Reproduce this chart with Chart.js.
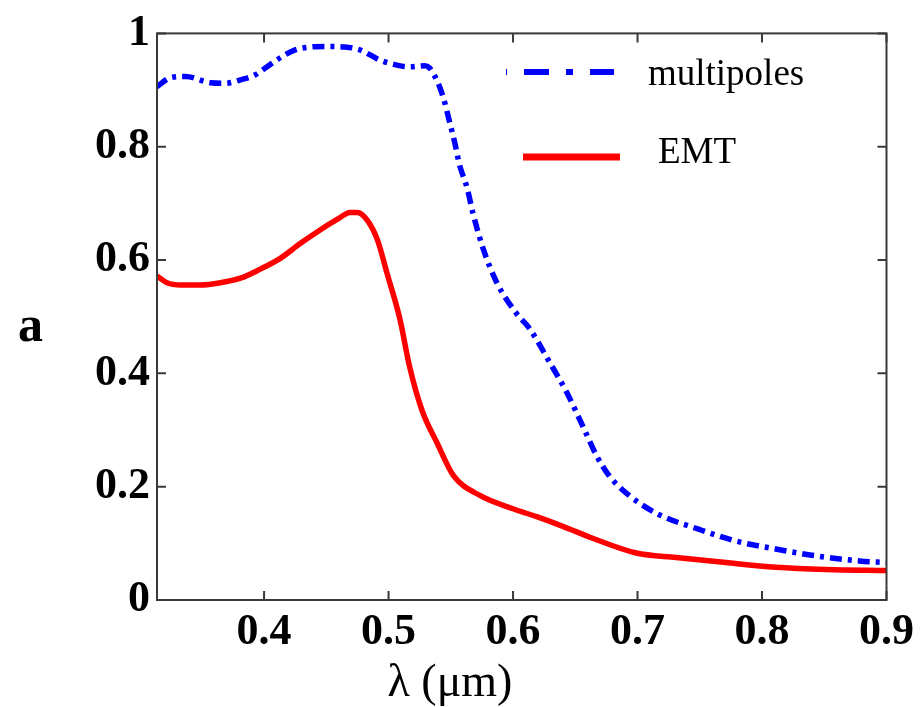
<!DOCTYPE html>
<html lang="en">
<head>
  <meta charset="UTF-8">
  <title>Multipoles vs EMT</title>
  <script src="https://cdn.jsdelivr.net/npm/chart.js"></script>
  <style>
    * {
      margin: 0;
      padding: 0;
      box-sizing: border-box;
    }

    body {
      background: #fff;
      width: 920px;
      height: 707px;
      overflow: hidden;
    }

    #chart {
      display: block;
    }
  </style>
</head>
<body>
  <canvas id="chart" width="920" height="707"></canvas>

  <script>
    // wavelength (um) and values
    const multipolesX = [0.314, 0.325, 0.337, 0.357, 0.369, 0.381, 0.393, 0.401, 0.413, 0.425, 0.437, 0.449, 0.465, 0.477, 0.493, 0.505, 0.517, 0.529, 0.533, 0.537, 0.541, 0.545, 0.549, 0.553, 0.557, 0.563, 0.568, 0.576, 0.587, 0.603, 0.613, 0.629, 0.643, 0.656, 0.667, 0.677, 0.693, 0.717, 0.749, 0.779, 0.811, 0.843, 0.878, 0.900];
    const multipolesY = [0.906, 0.922, 0.924, 0.913, 0.912, 0.918, 0.927, 0.939, 0.957, 0.971, 0.976, 0.977, 0.976, 0.971, 0.953, 0.945, 0.941, 0.943, 0.939, 0.925, 0.906, 0.879, 0.844, 0.809, 0.768, 0.728, 0.681, 0.620, 0.560, 0.505, 0.480, 0.421, 0.367, 0.307, 0.255, 0.220, 0.185, 0.151, 0.125, 0.104, 0.090, 0.078, 0.069, 0.066];

    const emtX = [0.314, 0.322, 0.333, 0.349, 0.365, 0.381, 0.397, 0.413, 0.429, 0.445, 0.459, 0.469, 0.475, 0.483, 0.491, 0.499, 0.509, 0.517, 0.527, 0.539, 0.552, 0.573, 0.600, 0.619, 0.640, 0.664, 0.699, 0.731, 0.771, 0.811, 0.851, 0.900];
    const emtY = [0.572, 0.560, 0.556, 0.556, 0.560, 0.568, 0.584, 0.603, 0.629, 0.653, 0.672, 0.684, 0.684, 0.670, 0.636, 0.575, 0.497, 0.411, 0.334, 0.277, 0.220, 0.185, 0.161, 0.147, 0.130, 0.109, 0.083, 0.075, 0.066, 0.058, 0.054, 0.052];

    const xTicks = [0.4, 0.5, 0.6, 0.7, 0.8, 0.9];
    const xTickLabels = ['0.4', '0.5', '0.6', '0.7', '0.8', '0.9'];
    const yTicks = [0, 0.2, 0.4, 0.6, 0.8, 1];
    const yTickLabels = ['0', '0.2', '0.4', '0.6', '0.8', '1'];

    const seriesNames = ['multipoles', 'EMT'];
    const axisTitle = 'λ (μm)';
    const panelLabel = 'a';

    const toPoints = (xs, ys) => xs.map((x, i) => ({ x: x, y: ys[i] }));

    const frameColor = '#3a3a3a';
    const serif = "'Liberation Serif', 'Times New Roman', serif";

    // box, inward ticks, legend and the loose labels
    const decorations = {
      id: 'decorations',
      afterDatasetsDraw(chart) {
        const ctx = chart.ctx;
        const area = chart.chartArea;
        const xs = chart.scales.x;
        const ys = chart.scales.y;
        const tick = 9;

        ctx.save();
        ctx.strokeStyle = frameColor;
        ctx.lineWidth = 2;
        ctx.setLineDash([]);
        ctx.strokeRect(area.left, area.top, area.right - area.left, area.bottom - area.top);

        ctx.beginPath();
        xTicks.forEach(v => {
          const px = xs.getPixelForValue(v);
          ctx.moveTo(px, area.bottom);
          ctx.lineTo(px, area.bottom - tick);
          ctx.moveTo(px, area.top);
          ctx.lineTo(px, area.top + tick);
        });
        yTicks.forEach(v => {
          const py = ys.getPixelForValue(v);
          ctx.moveTo(area.left, py);
          ctx.lineTo(area.left + tick, py);
          ctx.moveTo(area.right, py);
          ctx.lineTo(area.right - tick, py);
        });
        ctx.stroke();

        // legend
        ctx.lineCap = 'butt';
        ctx.strokeStyle = '#0000ff';
        ctx.lineWidth = 6;
        ctx.setLineDash([25, 17, 7, 17]);
        ctx.lineDashOffset = 48;
        ctx.beginPath();
        ctx.moveTo(506, 72);
        ctx.lineTo(614, 72);
        ctx.stroke();

        ctx.setLineDash([]);
        ctx.strokeStyle = '#ff0000';
        ctx.lineWidth = 7;
        ctx.beginPath();
        ctx.moveTo(523, 157);
        ctx.lineTo(620, 157);
        ctx.stroke();

        ctx.fillStyle = '#000';
        ctx.textBaseline = 'middle';
        ctx.textAlign = 'left';
        ctx.font = '37px ' + serif;
        ctx.fillText(seriesNames[0], 648, 75);
        ctx.fillText(seriesNames[1], 658, 153);

        ctx.font = 'bold 50px ' + serif;
        ctx.fillText(panelLabel, 18, 328);

        ctx.textAlign = 'center';
        ctx.font = '46px ' + serif;
        ctx.fillText(axisTitle, 450, 684);
        ctx.restore();
      }
    };

    new Chart(document.getElementById('chart'), {
      type: 'line',
      data: {
        datasets: [
          {
            label: seriesNames[0],
            data: toPoints(multipolesX, multipolesY),
            borderColor: '#0000ff',
            borderWidth: 5.5,
            borderDash: [12, 6, 4, 6],
            pointRadius: 0,
            fill: false,
            cubicInterpolationMode: 'monotone'
          },
          {
            label: seriesNames[1],
            data: toPoints(emtX, emtY),
            borderColor: '#ff0000',
            borderWidth: 5.5,
            pointRadius: 0,
            fill: false,
            cubicInterpolationMode: 'monotone'
          }
        ]
      },
      options: {
        responsive: false,
        animation: false,
        layout: {
          padding: { left: 0, right: 33, top: 23, bottom: 0 }
        },
        plugins: {
          legend: { display: false },
          tooltip: { enabled: false }
        },
        scales: {
          x: {
            type: 'linear',
            min: 0.314,
            max: 0.9,
            grid: { display: false, drawTicks: false },
            border: { display: false },
            afterBuildTicks: scale => {
              scale.ticks = xTicks.map(v => ({ value: v }));
            },
            afterFit: scale => {
              scale.height = 107;
            },
            ticks: {
              padding: 6,
              maxRotation: 0,
              autoSkip: false,
              color: '#000',
              font: { family: serif, size: 44, weight: 'bold' },
              callback: (v, i) => xTickLabels[i]
            }
          },
          y: {
            type: 'linear',
            min: 0,
            max: 1,
            grid: { display: false, drawTicks: false },
            border: { display: false },
            afterBuildTicks: scale => {
              scale.ticks = yTicks.map(v => ({ value: v }));
            },
            afterFit: scale => {
              scale.width = 157;
            },
            ticks: {
              padding: 7,
              autoSkip: false,
              color: '#000',
              font: { family: serif, size: 44, weight: 'bold' },
              callback: (v, i) => yTickLabels[i]
            }
          }
        }
      },
      plugins: [decorations]
    });
  </script>
</body>
</html>
